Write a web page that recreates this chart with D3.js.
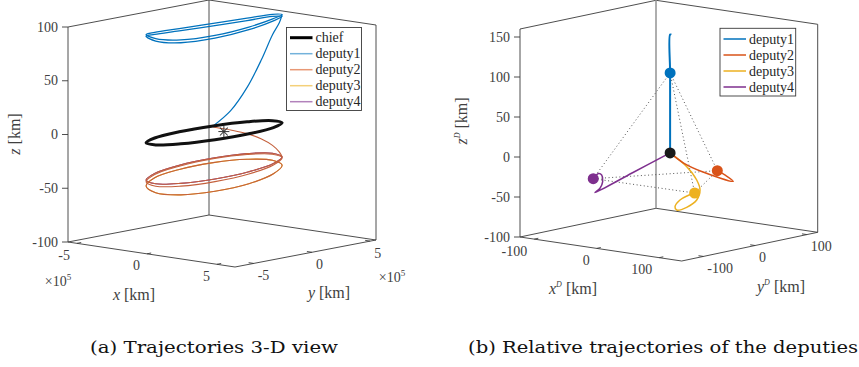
<!DOCTYPE html>
<html>
<head>
<style>
  body { margin: 0; background: #fff; }
</style>
</head>
<body>
<svg id="chart" width="859" height="367" font-family="'Liberation Serif', Tinos, 'Times New Roman', Times, serif"></svg>
<script src="https://d3js.org/d3.v7.min.js"></script>
<script>
// ---------- (a) trajectories, x and y in 1e5 km, z in km ----------
// chief orbit, read every 30 deg around the loop
const chiefX = [0.49, 1.15, 1.46, 1.34, 0.83, 0.05, -0.77, -1.43, -1.75, -1.62, -1.12, -0.33];
const chiefY = [4.41, 2.87, 0.39, -2.37, -4.69, -5.91, -5.75, -4.22, -1.73, 1.03, 3.34, 4.57];
const chiefZ = [0, 0, 0, 0, 0, 0, 0, 0, 0, 0, 0, 0];
// deputies follow the chief in x,y; only z differs
const dep1LoopZ  = [100.7, 101.4, 99.3, 97.0, 96.6, 98.8, 100.7, 98.3, 96.0, 95.3, 96.4, 99.0];
const dep1LoopZ2 = [99.0, 99.3, 96.8, 94.4, 94.0, 96.6, 99.2, 96.4, 93.8, 93.0, 94.2, 97.0];
const dep2LoopZ  = [-31.7, -33.5, -35.3, -36.5, -36.8, -36.2, -34.7, -32.9, -31.1, -29.9, -29.6, -30.2];
const dep2LoopZ2 = [-32.6, -34.8, -37.4, -39.0, -39.4, -38.4, -36.3, -34.0, -32.0, -30.6, -30.4, -31.2];
const dep2LoopZ3 = [-39.4, -43.0, -46.5, -48.0, -47.5, -44.5, -40.2, -37.0, -35.0, -34.2, -34.9, -36.8];
const dep3LoopZ  = [-39.4, -43.0, -46.5, -48.0, -47.5, -44.5, -40.2, -37.0, -35.0, -34.2, -34.9, -36.8];
const dep4LoopZ  = [-31.7, -33.5, -35.3, -36.5, -36.8, -36.2, -34.7, -32.9, -31.1, -29.9, -29.6, -30.2];
// transfer arcs leaving the chief orbit
const arcX = [-1.62, -1.42, -1.12, -0.75, -0.33, 0.09, 0.49];
const arcY = [1.03, 2.29, 3.34, 4.13, 4.57, 4.66, 4.41];
const dep1ArcZ = [0, 12, 32, 57, 80, 92, 100.7];
const dep2ArcZ = [-1, -6, -11, -17, -23, -28.6, -31.7];

// ---------- (b) relative trajectories, km ----------
const rel1X = [0, 0, 0, 0, 2];
const rel1Y = [0, 0, 0, 0, 0];
const rel1Z = [0, 50, 100, 148, 148];
const rel2X = [0, 15, 34, 68.7, 35, 6];
const rel2Y = [0, 8, 20, 39.1, 65, 84];
const rel2Z = [0, -12, -22, -33, -33, -33];
const rel3X = [0, 48.6, 81.6, 93.6, 99.4, 97.5, 89.5, 83.9, 76.5, 81.9, 84];
const rel3Y = [0, -26.5, -47.1, -55.2, -68.6, -85.7, -95.3, -91.8, -73.3, -64.2, -54];
const rel3Z = [0, -8, -18, -28, -38, -45, -48, -45, -40, -35, -33];
const rel4X = [0, -27, -54, -57.9, -70.5, -87, -93.1, -75];
const rel4Y = [0, -40, -80, -65.6, -45.2, -27.2, -25.9, -58];
const rel4Z = [0, -22.5, -45, -42, -38, -34, -33, -33];
// final positions: chief, deputy1..4
const dotX = [0, 0, 6, 84, -75];
const dotY = [0, 0, 84, -54, -58];
const dotZ = [0, 100, -33, -33, -33];

const names = ["chief", "deputy1", "deputy2", "deputy3", "deputy4"];
const colors = ["#000000", "#0072BD", "#D95319", "#EDB120", "#7E2F8E"];

const svg = d3.select("#chart");

function zip(xs, ys, zs) { return xs.map((x, i) => [x, ys[i], zs[i]]); }

// an oblique 3-D box from its corner points on screen
function makeProj(c) {
  const fx = d3.scaleLinear().domain(c.xDom).range([0, 1]);
  const fy = d3.scaleLinear().domain(c.yDom).range([0, 1]);
  const fz = d3.scaleLinear().domain(c.zDom).range([0, 1]);
  const vx = [c.front[0] - c.left[0], c.front[1] - c.left[1]];
  const vy = [c.right[0] - c.front[0], c.right[1] - c.front[1]];
  const p = d => [
    c.left[0] + fx(d[0]) * vx[0] + fy(d[1]) * vy[0],
    c.left[1] + fx(d[0]) * vx[1] + fy(d[1]) * vy[1] - fz(d[2]) * c.height
  ];
  p.c = c;
  return p;
}

function drawBox(g, p, backColor, backWidth) {
  const c = p.c, [x0, x1] = c.xDom, [y0, y1] = c.yDom, [z0, z1] = c.zDom;
  const segs = [
    [[x0, y0, z0], [x0, y0, z1]], [[x1, y1, z0], [x1, y1, z1]],
    [[x0, y0, z0], [x1, y0, z0]], [[x1, y0, z0], [x1, y1, z0]],
    [[x0, y0, z0], [x0, y1, z0]], [[x0, y1, z0], [x1, y1, z0]],
    [[x0, y0, z1], [x0, y1, z1]], [[x0, y1, z1], [x1, y1, z1]]
  ];
  g.selectAll(".edge").data(segs).enter().append("line")
    .attr("x1", d => p(d[0])[0]).attr("y1", d => p(d[0])[1])
    .attr("x2", d => p(d[1])[0]).attr("y2", d => p(d[1])[1])
    .attr("stroke", "#3a3a3a").attr("stroke-width", 0.9);
  const b0 = p([x0, y1, z0]), b1 = p([x0, y1, z1]);
  g.append("line").attr("x1", b0[0]).attr("y1", b0[1]).attr("x2", b1[0]).attr("y2", b1[1])
    .attr("stroke", backColor).attr("stroke-width", backWidth);

  // ticks and tick labels
  c.zTicks.forEach(t => {
    const q = p([x0, y0, t]);
    g.append("line").attr("x1", q[0] - 6).attr("x2", q[0]).attr("y1", q[1]).attr("y2", q[1])
      .attr("stroke", "#3a3a3a").attr("stroke-width", 0.9);
    g.append("text").attr("x", q[0] - 10).attr("y", q[1]).attr("dy", "0.33em")
      .attr("text-anchor", "end").attr("font-size", 14).attr("fill", "#404040").text(t);
  });
  c.xTicks.forEach(t => {
    const q = p([t, y0, z0]);
    const r = p([t, y0 + (y1 - y0) * 0.03, z0]);
    g.append("line").attr("x1", q[0]).attr("y1", q[1]).attr("x2", r[0]).attr("y2", r[1])
      .attr("stroke", "#3a3a3a").attr("stroke-width", 0.9);
    g.append("text").attr("x", q[0] - 7).attr("y", q[1] + 12).attr("dy", "0.33em")
      .attr("text-anchor", "end").attr("font-size", 14).attr("fill", "#404040").text(t);
  });
  c.yTicks.forEach(t => {
    const q = p([x1, t, z0]);
    const r = p([x1 - (x1 - x0) * 0.03, t, z0]);
    g.append("line").attr("x1", q[0]).attr("y1", q[1]).attr("x2", r[0]).attr("y2", r[1])
      .attr("stroke", "#3a3a3a").attr("stroke-width", 0.9);
    g.append("text").attr("x", q[0] + 4).attr("y", q[1] + 12).attr("dy", "0.33em")
      .attr("text-anchor", "start").attr("font-size", 14).attr("fill", "#404040").text(t);
  });
}

function pathOf(p, pts, closed) {
  return d3.line().x(d => p(d)[0]).y(d => p(d)[1])
    .curve(closed ? d3.curveCatmullRomClosed.alpha(0.5) : d3.curveCatmullRom.alpha(0.5))(pts);
}

function axisLabel(g, x, y, name, sup, rotate) {
  const t = g.append("text").attr("font-size", 16).attr("text-anchor", "middle").attr("fill", "#404040")
    .attr("transform", `translate(${x},${y})` + (rotate ? " rotate(-90)" : ""));
  t.append("tspan").attr("font-style", "italic").text(name);
  if (sup) t.append("tspan").attr("font-size", 8).attr("dy", -7).attr("font-style", "italic").text(sup);
  t.append("tspan").attr("dy", sup ? 7 : 0).text(" [km]");
}

function legend(g, x, y, w, h, items, y0, opac, widths) {
  g.append("rect").attr("x", x).attr("y", y).attr("width", w).attr("height", h)
    .attr("fill", "#fff").attr("stroke", "#3a3a3a").attr("stroke-width", 0.9);
  items.forEach((it, i) => {
    const yy = y0 + 16 * i;
    g.append("line").attr("x1", x + 3.5).attr("x2", x + 26).attr("y1", yy).attr("y2", yy)
      .attr("stroke", colors[it]).attr("stroke-width", widths[i]).attr("stroke-opacity", opac[i]);
    g.append("text").attr("x", x + 29).attr("y", yy).attr("dy", "0.33em")
      .attr("font-size", 14).attr("fill", "#262626").text(names[it]);
  });
}

// ================= panel (a) =================
const pa = makeProj({
  xDom: [-5.64, 6.29], yDom: [-6.6, 5.5], zDom: [-100, 100],
  left: [68, 242], front: [235, 267], right: [376, 240], height: 215,
  xTicks: [-5, 0, 5], yTicks: [-5, 0, 5], zTicks: [-100, -50, 0, 50, 100]
});
const ga = svg.append("g");
drawBox(ga, pa, "#3a3a3a", 0.9);

const loops = [
  [dep4LoopZ, 4, 1.1, "#7E2F8E"], [dep3LoopZ, 3, 1.1, "#EDB120"],
  [dep2LoopZ, 2, 1.1, "#C4603C"], [dep2LoopZ2, 2, 1.1, "#C4603C"], [dep2LoopZ3, 2, 1.1, "#C4603C"],
  [dep1LoopZ, 1, 1.3, "#0072BD"], [dep1LoopZ2, 1, 1.3, "#0072BD"]
];
loops.forEach(([zs, k, w, col]) => {
  ga.append("path").attr("d", pathOf(pa, zip(chiefX, chiefY, zs), true))
    .attr("fill", "none").attr("stroke", col).attr("stroke-width", w);
});
ga.append("path").attr("d", pathOf(pa, zip(arcX, arcY, dep2ArcZ), false))
  .attr("fill", "none").attr("stroke", "#C4603C").attr("stroke-width", 1.1);
ga.append("path").attr("d", pathOf(pa, zip(arcX, arcY, dep1ArcZ), false))
  .attr("fill", "none").attr("stroke", colors[1]).attr("stroke-width", 1.2);
ga.append("path").attr("d", pathOf(pa, zip(chiefX, chiefY, chiefZ), true))
  .attr("fill", "none").attr("stroke", "#111").attr("stroke-width", 3);

// star at the origin
const o = pa([0, 0, 0]);
[0, 45, 90, 135].forEach(a => {
  ga.append("line").attr("x1", o[0] - 5.5).attr("x2", o[0] + 5.5).attr("y1", o[1]).attr("y2", o[1])
    .attr("transform", `rotate(${a},${o[0]},${o[1]})`).attr("stroke", "#333").attr("stroke-width", 1);
});

axisLabel(ga, 134, 300, "x", null, false);
axisLabel(ga, 329, 298, "y", null, false);
axisLabel(ga, 20, 134, "z", null, true);
[[58, 286], [392, 282]].forEach(([x, y]) => {
  const t = ga.append("text").attr("x", x).attr("y", y).attr("text-anchor", "middle")
    .attr("font-size", 14).attr("fill", "#404040");
  t.append("tspan").text("×10");
  t.append("tspan").attr("font-size", 9).attr("dy", -6).text("5");
});
legend(ga, 286.5, 27.5, 75, 83, [0, 1, 2, 3, 4], 37.7, [1, 0.55, 0.6, 0.6, 0.6], [3, 1.5, 1.5, 1.5, 1.5]);

// ================= panel (b) =================
const pb = makeProj({
  xDom: [-122.8, 136], yDom: [-141.8, 121], zDom: [-100, 160],
  left: [520, 237], front: [681.7, 261], right: [817.7, 232.3], height: 208,
  xTicks: [-100, 0, 100], yTicks: [-100, 0, 100], zTicks: [-100, -50, 0, 50, 100, 150]
});
const gb = svg.append("g");
drawBox(gb, pb, "#9a9a9a", 1.6);

const dots = zip(dotX, dotY, dotZ);
const pairs = [[1, 2], [1, 3], [1, 4], [2, 3], [2, 4], [3, 4]];
pairs.forEach(([i, j]) => {
  const a = pb(dots[i]), b = pb(dots[j]);
  gb.append("line").attr("x1", a[0]).attr("y1", a[1]).attr("x2", b[0]).attr("y2", b[1])
    .attr("stroke", "#555").attr("stroke-width", 1).attr("stroke-dasharray", "1,2.6");
});

const rel = [
  [zip(rel4X, rel4Y, rel4Z), 4], [zip(rel3X, rel3Y, rel3Z), 3],
  [zip(rel2X, rel2Y, rel2Z), 2], [zip(rel1X, rel1Y, rel1Z), 1]
];
rel.forEach(([pts, k]) => {
  gb.append("path").attr("d", pathOf(pb, pts, false))
    .attr("fill", "none").attr("stroke", colors[k]).attr("stroke-width", k === 1 ? 2 : 1.5);
});
dots.forEach((d, i) => {
  const q = pb(d);
  gb.append("circle").attr("cx", q[0]).attr("cy", q[1]).attr("r", 5.5)
    .attr("fill", i === 0 ? "#1a1a1a" : colors[i]);
});

axisLabel(gb, 573, 294, "x", "D", false);
axisLabel(gb, 781, 292, "y", "D", false);
axisLabel(gb, 467, 121, "z", "D", true);
legend(gb, 720, 28.3, 75.7, 67.7, [1, 2, 3, 4], 39, [1, 1, 1, 1], [1.5, 1.5, 1.5, 1.5]);

// captions
svg.append("text").attr("font-family", "'DejaVu Serif', serif").attr("font-size", 17).attr("fill", "#111")
  .attr("x", 90).attr("y", 353).attr("textLength", 248).attr("lengthAdjust", "spacingAndGlyphs")
  .text("(a) Trajectories 3-D view");
svg.append("text").attr("font-family", "'DejaVu Serif', serif").attr("font-size", 17).attr("fill", "#111")
  .attr("x", 468).attr("y", 353).attr("textLength", 390).attr("lengthAdjust", "spacingAndGlyphs")
  .text("(b) Relative trajectories of the deputies");
</script>
</body>
</html>
